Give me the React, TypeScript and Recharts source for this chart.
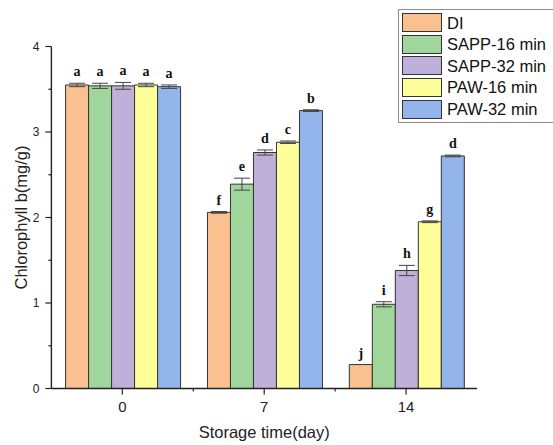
import React from "react";
import {
  BarChart,
  Bar,
  XAxis,
  YAxis,
  ErrorBar,
  LabelList,
  Legend,
} from "recharts";

// storage days
const days = ["0", "7", "14"];

// chlorophyll b (mg/g)
const di = [3.55, 2.06, 0.28];
const sapp16 = [3.54, 2.39, 0.985];
const sapp32 = [3.54, 2.76, 1.38];
const paw16 = [3.55, 2.88, 1.95];
const paw32 = [3.53, 3.25, 2.72];

// error (sd)
const diErr = [0.02, 0.01, 0];
const sapp16Err = [0.03, 0.07, 0.03];
const sapp32Err = [0.04, 0.03, 0.06];
const paw16Err = [0.02, 0.015, 0.01];
const paw32Err = [0.02, 0.01, 0.01];

// significance letters
const diSig = ["a", "f", "j"];
const sapp16Sig = ["a", "e", "i"];
const sapp32Sig = ["a", "d", "h"];
const paw16Sig = ["a", "c", "g"];
const paw32Sig = ["a", "b", "d"];

const yTicks = [0, 0.5, 1, 1.5, 2, 2.5, 3, 3.5, 4];

const series = [
  { key: "DI", name: "DI", vals: di, err: diErr, sig: diSig, color: "#FAC090" },
  { key: "S16", name: "SAPP-16 min", vals: sapp16, err: sapp16Err, sig: sapp16Sig, color: "#A0D69C" },
  { key: "S32", name: "SAPP-32 min", vals: sapp32, err: sapp32Err, sig: sapp32Sig, color: "#BEB0D8" },
  { key: "P16", name: "PAW-16 min", vals: paw16, err: paw16Err, sig: paw16Sig, color: "#FFFF99" },
  { key: "P32", name: "PAW-32 min", vals: paw32, err: paw32Err, sig: paw32Sig, color: "#94B4EC" },
];

const data = days.map((d, i) => {
  const row: any = { day: d };
  series.forEach((s) => {
    row[s.key] = s.vals[i];
    row[s.key + "err"] = s.err[i];
    row[s.key + "sig"] = s.sig[i];
  });
  return row;
});

const sans = "'Liberation Sans', Arial, sans-serif";
const axisColor = "#222";

const YTick = (props: any) => {
  const { x, y, payload } = props;
  const major = Number.isInteger(payload.value);
  return (
    <g>
      <line x1={x - (major ? 6 : 3)} x2={x} y1={y} y2={y} stroke={axisColor} strokeWidth={1.2} />
      {major && (
        <text x={x - 12} y={y + 4.3} textAnchor="end" fontSize={12} fontFamily={sans} fill="#222">
          {payload.value}
        </text>
      )}
    </g>
  );
};

const XTick = (props: any) => {
  const { x, y, payload, index } = props;
  const half = payload.offset ?? 71;
  return (
    <g>
      <line x1={x} x2={x} y1={y} y2={y + 6} stroke={axisColor} strokeWidth={1.2} />
      {index < days.length - 1 && (
        <line x1={x + half} x2={x + half} y1={y} y2={y + 3} stroke={axisColor} strokeWidth={1.2} />
      )}
      <text x={x} y={y + 23.5} textAnchor="middle" fontSize={15} fontFamily={sans} fill="#222">
        {payload.value}
      </text>
    </g>
  );
};

const sigLabel = (s: typeof series[number]) => (p: any) => {
  const vb = p.viewBox || {};
  const x = p.x ?? vb.x;
  const y = p.y ?? vb.y;
  const w = p.width ?? vb.width;
  const h = p.height ?? vb.height;
  const i = p.index;
  const v = s.vals[i];
  const errPx = v ? (Math.abs(h) * s.err[i]) / v : 0;
  return (
    <text
      x={x + w / 2}
      y={y - errPx - 7}
      textAnchor="middle"
      fontSize={14}
      fontWeight="bold"
      fontFamily="'Liberation Serif', 'Times New Roman', serif"
      fill="#111"
    >
      {p.value}
    </text>
  );
};

const LegendBox = () => (
  <div
    style={{
      border: "1px solid #8c8c8c",
      background: "#fff",
      padding: "2px 0 2px 3px",
      width: 170,
      boxSizing: "border-box",
    }}
  >
    {series.map((s) => (
      <div key={s.key} style={{ display: "flex", alignItems: "center", height: 21.6 }}>
        <div
          style={{
            width: 40,
            height: 19,
            background: s.color,
            border: "1px solid #333",
            boxSizing: "border-box",
          }}
        />
        <span style={{ marginLeft: 5, fontSize: 16.5, fontFamily: sans, color: "#111", lineHeight: 1 }}>
          {s.name}
        </span>
      </div>
    ))}
  </div>
);

const App = () => {
  return (
    <div style={{ position: "absolute", left: 0, top: 0, width: 553, height: 445, background: "#fff", overflow: "hidden" }}>
      <BarChart
        width={553}
        height={445}
        data={data}
        margin={{ top: 46.5, right: 76, left: 0, bottom: 0 }}
        barCategoryGap="10%"
        barGap={0}
      >
        <XAxis
          dataKey="day"
          height={56.5}
          tickSize={0}
          tickMargin={0}
          tickLine={false}
          axisLine={{ stroke: axisColor, strokeWidth: 1.4 }}
          tick={<XTick />}
          interval={0}
          label={(p: any) => {
            const vb = p.viewBox;
            return (
              <text x={vb.x + vb.width / 2} y={438} textAnchor="middle" fontSize={16.5} fontFamily={sans} fill="#222">
                Storage time(day)
              </text>
            );
          }}
        />
        <YAxis
          type="number"
          domain={[0, 4]}
          ticks={yTicks}
          interval={0}
          width={51.4}
          tickSize={0}
          tickMargin={0}
          tickLine={false}
          axisLine={{ stroke: axisColor, strokeWidth: 1.4 }}
          tick={<YTick />}
          label={(p: any) => {
            const vb = p.viewBox;
            const cy = vb.y + vb.height / 2;
            return (
              <text
                x={21}
                y={cy}
                transform={`rotate(-90, 21, ${cy})`}
                textAnchor="middle"
                dominantBaseline="central"
                fontSize={16.5}
                fontFamily={sans}
                fill="#222"
              >
                Chlorophyll b(mg/g)
              </text>
            );
          }}
        />
        <Legend
          layout="vertical"
          align="center"
          verticalAlign="middle"
          content={<LegendBox />}
          wrapperStyle={{ left: 398, top: 9, width: 170 }}
        />
        {series.map((s) => (
          <Bar
            key={s.key}
            dataKey={s.key}
            name={s.name}
            fill={s.color}
            stroke="#333"
            strokeWidth={1}
            isAnimationActive={false}
          >
            <ErrorBar dataKey={s.key + "err"} width={8} stroke="#444" strokeWidth={1} />
            <LabelList dataKey={s.key + "sig"} content={sigLabel(s)} />
          </Bar>
        ))}
      </BarChart>
    </div>
  );
};

export default App;
